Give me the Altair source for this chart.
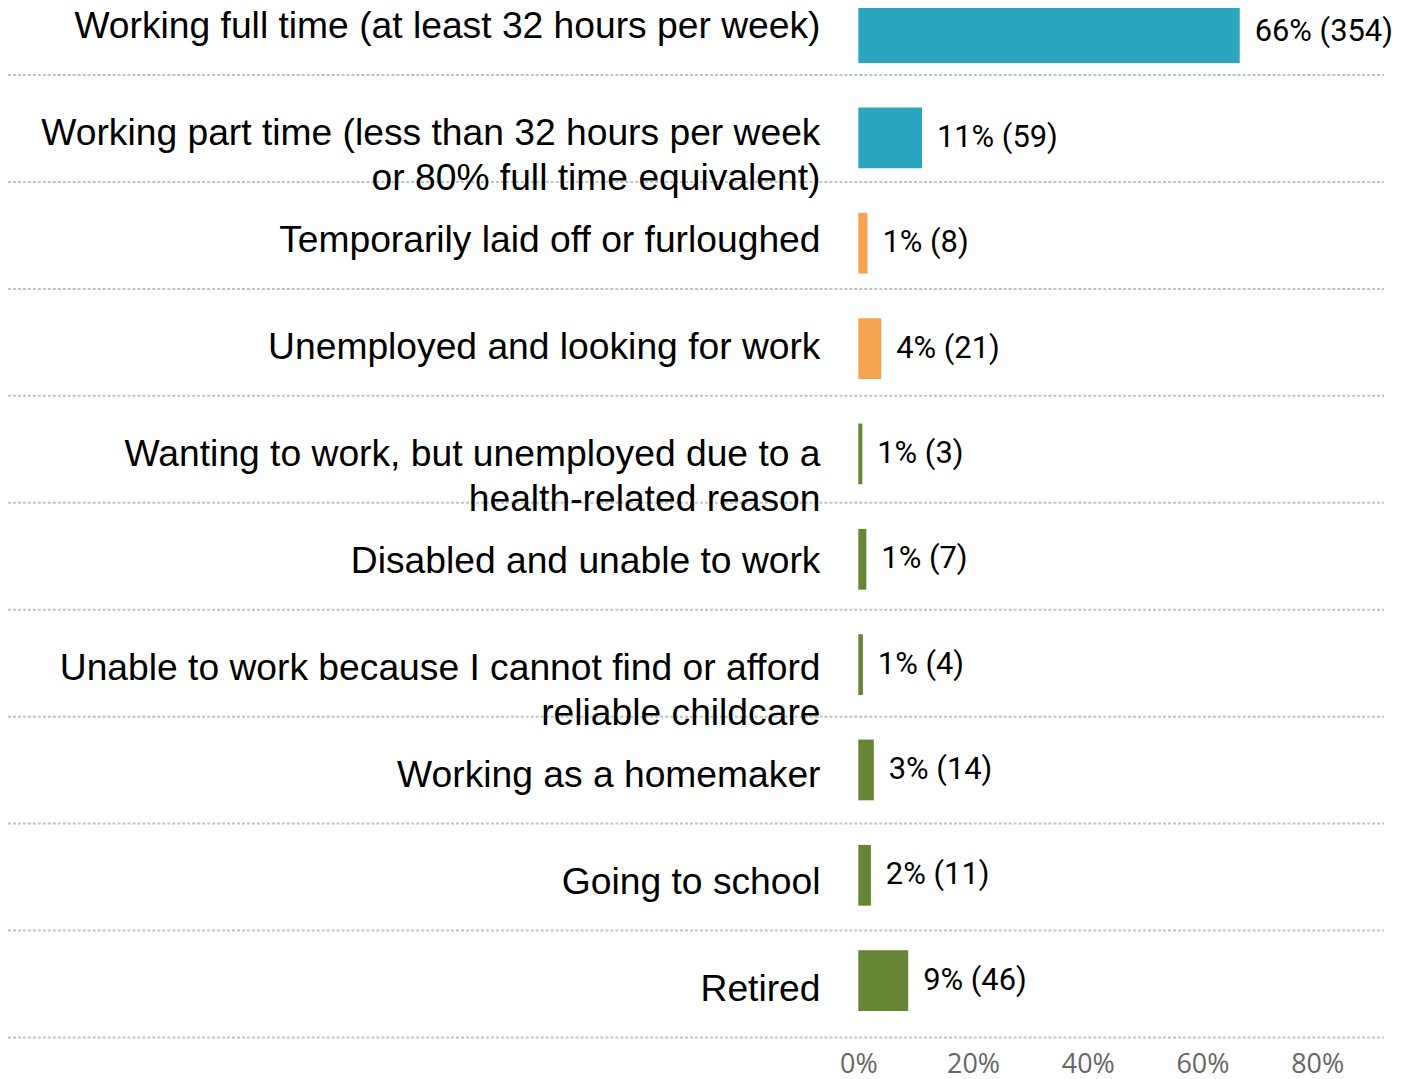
import altair as alt
import pandas as pd

categories = [
    "Working full time (at least 32 hours per week)",
    "Working part time (less than 32 hours per week\nor 80% full time equivalent)",
    "Temporarily laid off or furloughed",
    "Unemployed and looking for work",
    "Wanting to work, but unemployed due to a\nhealth-related reason",
    "Disabled and unable to work",
    "Unable to work because I cannot find or afford\nreliable childcare",
    "Working as a homemaker",
    "Going to school",
    "Retired",
]
pct_values = [66.5, 11.1, 1.6, 4.0, 0.7, 1.4, 0.8, 2.7, 2.2, 8.7]
pct_labels = [66, 11, 1, 4, 1, 1, 1, 3, 2, 9]
counts = [354, 59, 8, 21, 3, 7, 4, 14, 11, 46]
groups = ["working", "working", "out", "out", "other", "other", "other", "other", "other", "other"]
group_names = ["working", "out", "other"]
group_colors = ["#2aa5bd", "#f4a451", "#668535"]
tick_values = [0, 20, 40, 60, 80]

df = pd.DataFrame({
    "row": list(range(len(categories))),
    "category": categories,
    "pct": pct_values,
    "label": [f"{p}% ({c})" for p, c in zip(pct_labels, counts)],
    "group": groups,
})

W = 1392
H = 1040

x_scale = alt.Scale(domain=[-148.26, 93.40], nice=False, zero=False, padding=0)
x_axis = alt.Axis(values=tick_values, labelExpr="datum.value + '%'", grid=False,
                  domain=False, ticks=False, title=None, labelFont="Open Sans",
                  labelFontSize=27, labelColor="#666666", labelPadding=6)

bar_y = alt.Y("row:Q", scale=alt.Scale(domain=[-0.2108, 9.619], reverse=True, nice=False,
                                       zero=False, padding=0), axis=None)
lab_y = alt.Y("row:Q", scale=alt.Scale(domain=[-0.158, 9.525], reverse=True, nice=False,
                                       zero=False, padding=0), axis=None)

base = alt.Chart(df)

bars = base.mark_bar(orient="horizontal", size=61).encode(
    x=alt.X("pct:Q", scale=x_scale, axis=x_axis),
    x2=alt.X2(datum=0),
    y=bar_y,
    color=alt.Color("group:N", scale=alt.Scale(domain=group_names, range=group_colors), legend=None),
)

values = base.mark_text(align="left", baseline="middle", dx=15, font="Roboto",
                        fontSize=31, color="#000000").encode(
    x=alt.X("pct:Q", scale=x_scale),
    y=bar_y,
    text="label:N",
)

bar_layer = alt.layer(bars, values)

labels = base.mark_text(align="right", baseline="middle", dx=-38, font="Liberation Sans",
                        fontSize=37.4, lineBreak="\n", lineHeight=45, color="#000000").encode(
    x=alt.X(datum=0, scale=x_scale),
    y=lab_y,
    text="category:N",
)

seps = base.mark_rule(strokeDash=[3, 2], strokeWidth=2, color="#bcc5c5", yOffset=48).encode(
    x=alt.value(0),
    x2=alt.value(1382),
    y=lab_y,
)

label_layer = alt.layer(seps, labels)

chart = alt.layer(bar_layer, label_layer).resolve_scale(y="independent").properties(
    width=W, height=H,
    autosize=alt.AutoSizeParams(type="none"),
    padding={"left": 0, "top": 0, "right": 0, "bottom": 36},
).configure_view(stroke=None)

chart.save("out.html", embed_options={"renderer": "svg", "actions": False})
